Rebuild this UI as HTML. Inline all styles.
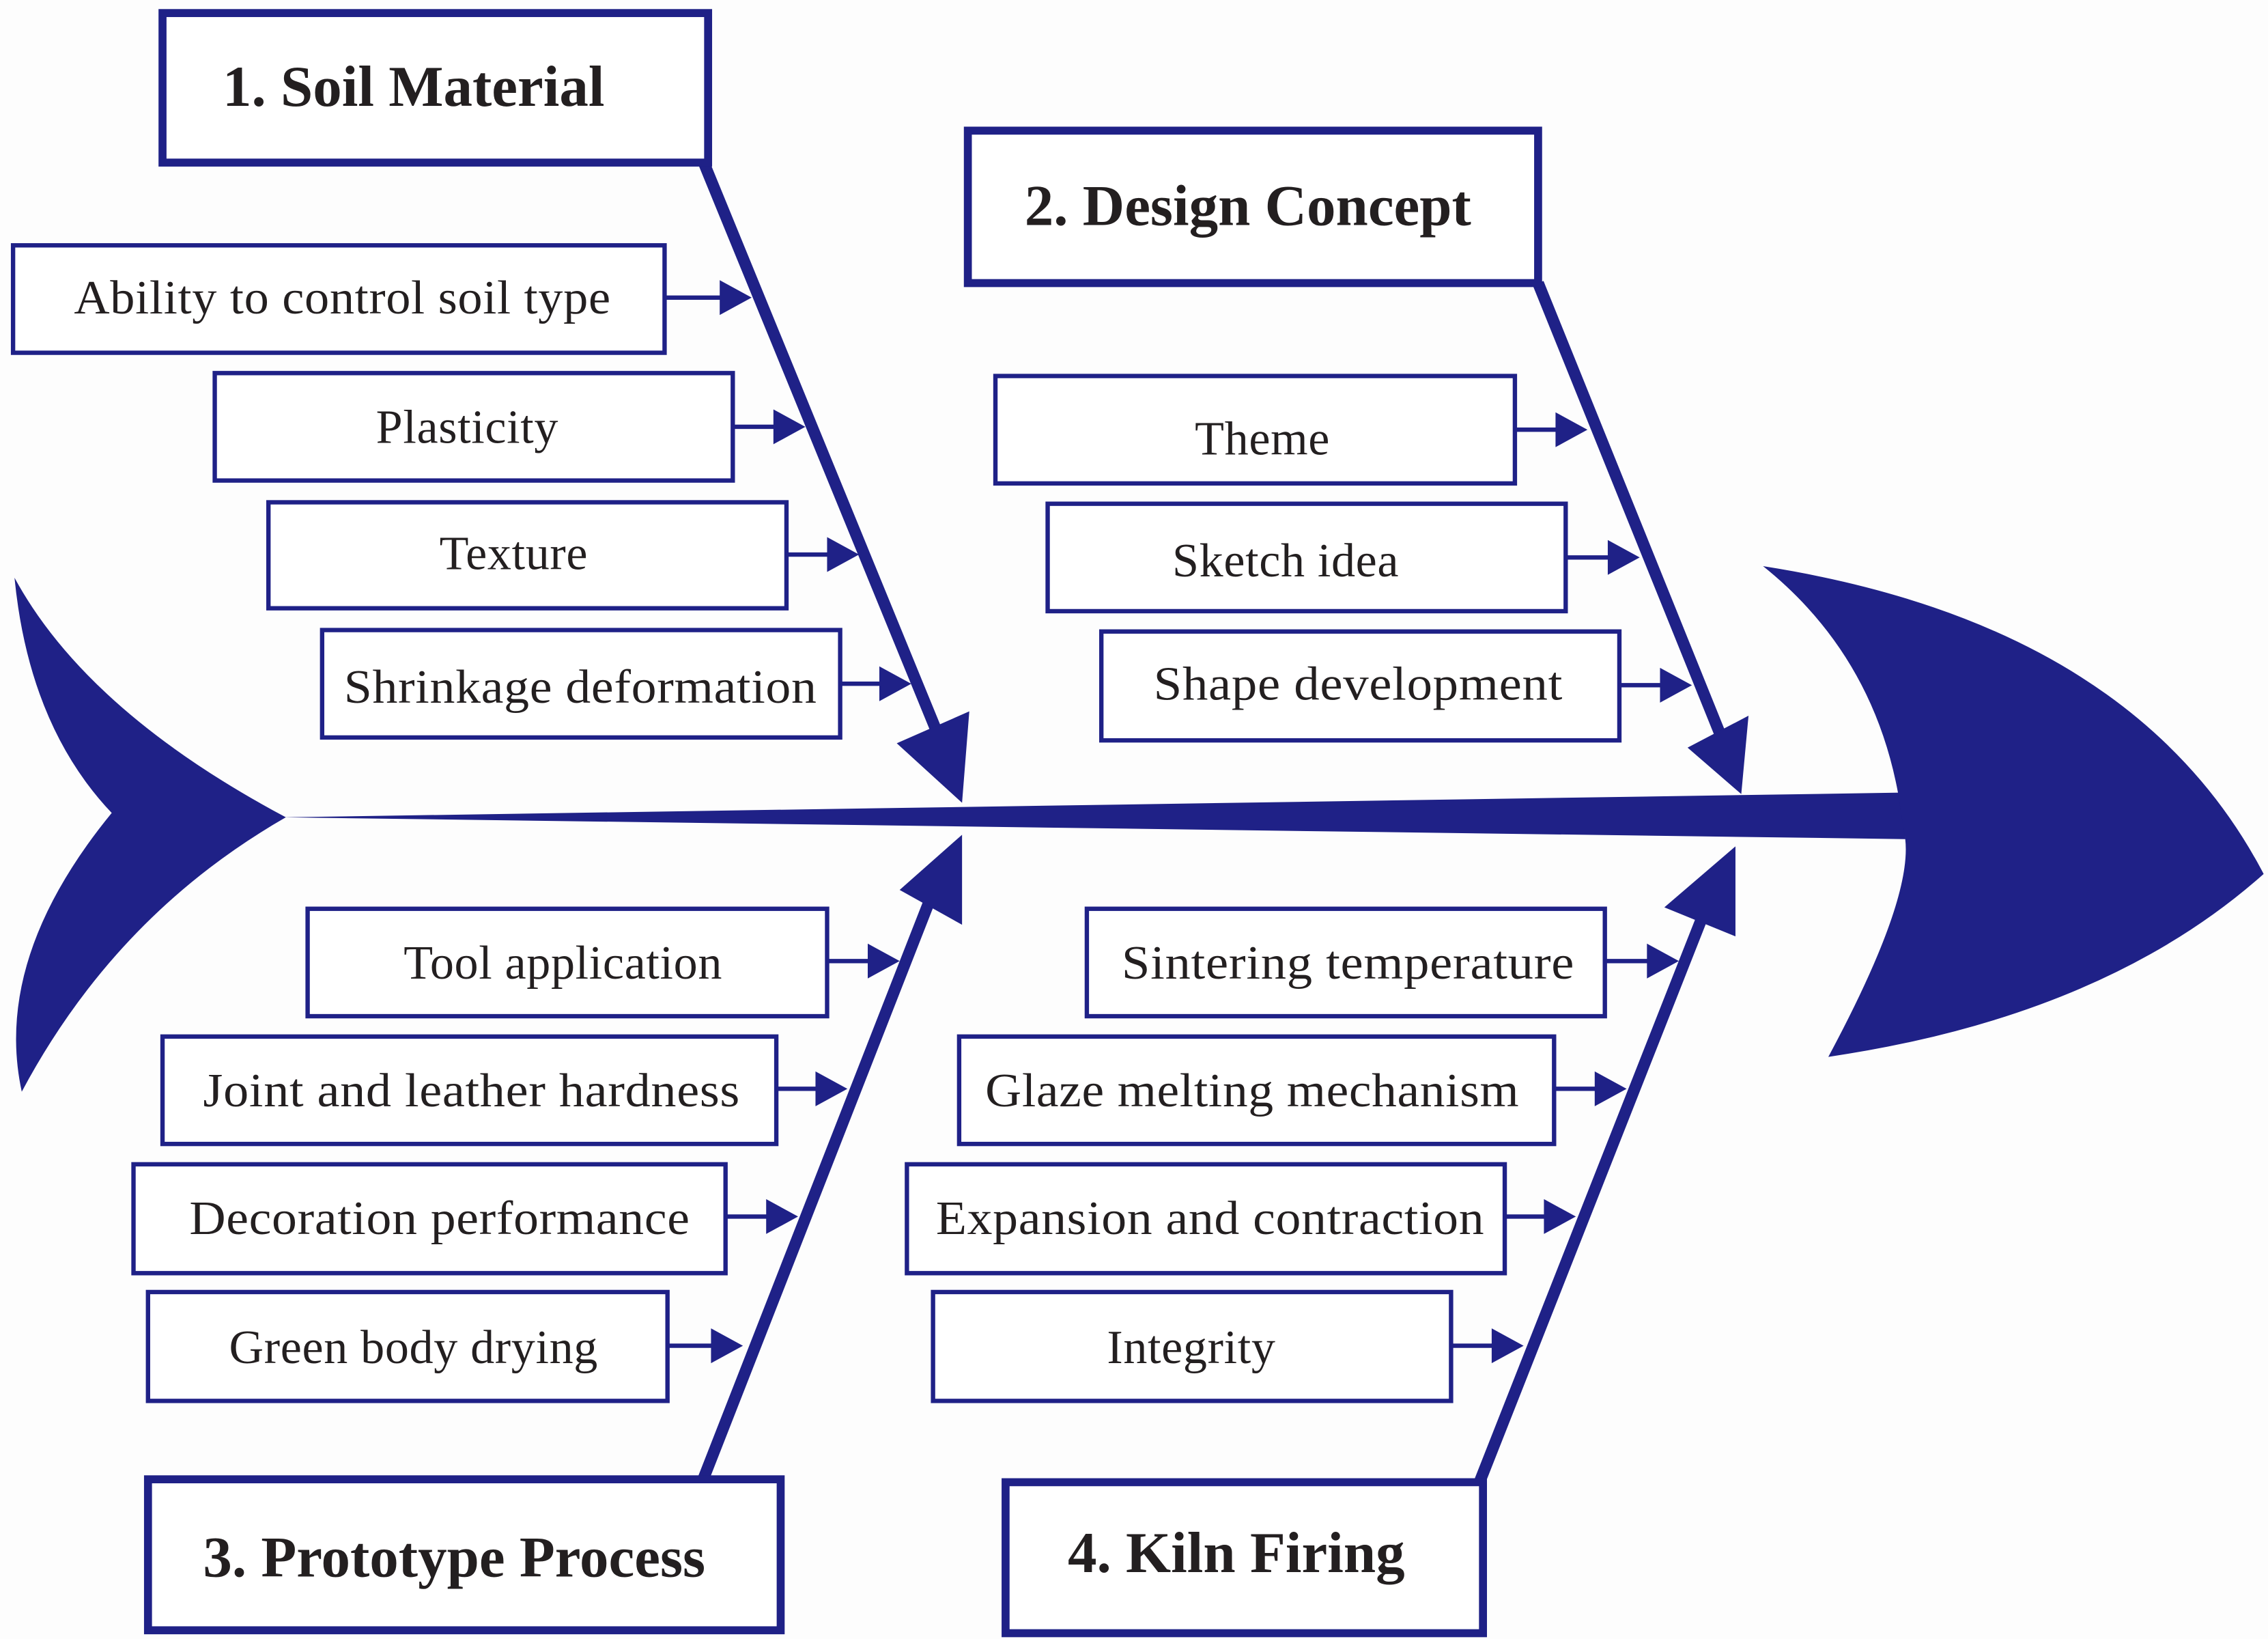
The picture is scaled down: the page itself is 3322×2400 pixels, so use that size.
<!DOCTYPE html>
<html><head><meta charset="utf-8"><style>
html,body{margin:0;padding:0;background:#fdfdfd;}
svg{display:block;}
text{font-family:"Liberation Serif",serif;fill:#231f20;}
.t{font-size:33px;text-anchor:middle;letter-spacing:0.3px;}
.h{font-size:40px;font-weight:bold;text-anchor:middle;}
.b{fill:#fff;stroke:#1f2187;stroke-width:3;}
.H{fill:#fff;stroke:#1f2187;stroke-width:5.5;}
.l{stroke:#1f2187;stroke-width:3;}
.bone{stroke:#1f2187;stroke-width:8;}
.f{fill:#1f2187;}
</style></head><body>
<svg width="3322" height="2400" viewBox="0 0 1563 1129" preserveAspectRatio="none" xmlns="http://www.w3.org/2000/svg">
<rect width="1563" height="1129" fill="#fdfdfd"/>
<path class="f" d="M10,398 Q60,490 197,563 Q80,630 15,752 Q-5,660 77,560 Q20,500 10,398 Z"/>
<path class="f" d="M195,563 L1310,546 L1313,578 Z"/>
<path class="f" d="M1215,390 Q1470,430 1560,602 Q1450,700 1260,728 Q1318,620 1313,578 L1308,546 Q1290,450 1215,390 Z"/>
<line class="bone" x1="485" y1="112" x2="646" y2="505"/>
<path class="f" d="M663,553 L618,512 L668,490 Z"/>
<line class="bone" x1="1060" y1="195" x2="1188" y2="512"/>
<path class="f" d="M1200,547 L1163,515 L1205,493 Z"/>
<line class="bone" x1="485" y1="1018" x2="640" y2="622"/>
<path class="f" d="M663,575 L620,613 L663,637 Z"/>
<line class="bone" x1="1020" y1="1020" x2="1175" y2="627"/>
<path class="f" d="M1196,583 L1147,625 L1196,645 Z"/>
<rect class="H" x="112" y="9" width="376" height="103"/><text class="h" x="285" y="73">1. Soil Material</text>
<rect class="H" x="667" y="90" width="393" height="105"/><text class="h" x="860" y="155">2. Design Concept</text>
<rect class="H" x="102" y="1019" width="436" height="104"/><text class="h" x="313" y="1086">3. Prototype Process</text>
<rect class="H" x="693" y="1021" width="329" height="104"/><text class="h" x="852" y="1083">4. Kiln Firing</text>
<g>
<rect class="b" x="9" y="169" width="449" height="74"/><text class="t" x="236" y="216" textLength="370" lengthAdjust="spacingAndGlyphs">Ability to control soil type</text>
<line class="l" x1="458" y1="205" x2="500" y2="205"/><path class="f" d="M518,205 L496,193 L496,217 Z"/>
<rect class="b" x="148" y="257" width="357" height="74"/><text class="t" x="322" y="305">Plasticity</text>
<line class="l" x1="505" y1="294" x2="537" y2="294"/><path class="f" d="M555,294 L533,282 L533,306 Z"/>
<rect class="b" x="185" y="346" width="357" height="73"/><text class="t" x="354" y="392">Texture</text>
<line class="l" x1="542" y1="382" x2="574" y2="382"/><path class="f" d="M592,382 L570,370 L570,394 Z"/>
<rect class="b" x="222" y="434" width="357" height="74"/><text class="t" x="400" y="484" textLength="326" lengthAdjust="spacingAndGlyphs">Shrinkage deformation</text>
<line class="l" x1="579" y1="471" x2="610" y2="471"/><path class="f" d="M628,471 L606,459 L606,483 Z"/>

<rect class="b" x="686" y="259" width="358" height="74"/><text class="t" x="870" y="313">Theme</text>
<line class="l" x1="1044" y1="296" x2="1076" y2="296"/><path class="f" d="M1094,296 L1072,284 L1072,308 Z"/>
<rect class="b" x="722" y="347" width="357" height="74"/><text class="t" x="886" y="397">Sketch idea</text>
<line class="l" x1="1079" y1="384" x2="1112" y2="384"/><path class="f" d="M1130,384 L1108,372 L1108,396 Z"/>
<rect class="b" x="759" y="435" width="357" height="75"/><text class="t" x="936" y="482" textLength="282" lengthAdjust="spacingAndGlyphs">Shape development</text>
<line class="l" x1="1116" y1="472" x2="1148" y2="472"/><path class="f" d="M1166,472 L1144,460 L1144,484 Z"/>

<rect class="b" x="212" y="626" width="358" height="74"/><text class="t" x="388" y="674">Tool application</text>
<line class="l" x1="570" y1="662" x2="602" y2="662"/><path class="f" d="M620,662 L598,650 L598,674 Z"/>
<rect class="b" x="112" y="714" width="423" height="74"/><text class="t" x="325" y="762" textLength="370" lengthAdjust="spacingAndGlyphs">Joint and leather hardness</text>
<line class="l" x1="535" y1="750" x2="566" y2="750"/><path class="f" d="M584,750 L562,738 L562,762 Z"/>
<rect class="b" x="92" y="802" width="408" height="75"/><text class="t" x="303" y="850" textLength="345" lengthAdjust="spacingAndGlyphs">Decoration performance</text>
<line class="l" x1="500" y1="838" x2="532" y2="838"/><path class="f" d="M550,838 L528,826 L528,850 Z"/>
<rect class="b" x="102" y="890" width="358" height="75"/><text class="t" x="285" y="939">Green body drying</text>
<line class="l" x1="460" y1="927" x2="494" y2="927"/><path class="f" d="M512,927 L490,915 L490,939 Z"/>

<rect class="b" x="749" y="626" width="357" height="74"/><text class="t" x="929" y="674" textLength="312" lengthAdjust="spacingAndGlyphs">Sintering temperature</text>
<line class="l" x1="1106" y1="662" x2="1139" y2="662"/><path class="f" d="M1157,662 L1135,650 L1135,674 Z"/>
<rect class="b" x="661" y="714" width="410" height="74"/><text class="t" x="863" y="762" textLength="368" lengthAdjust="spacingAndGlyphs">Glaze melting mechanism</text>
<line class="l" x1="1071" y1="750" x2="1103" y2="750"/><path class="f" d="M1121,750 L1099,738 L1099,762 Z"/>
<rect class="b" x="625" y="802" width="412" height="75"/><text class="t" x="834" y="850" textLength="378" lengthAdjust="spacingAndGlyphs">Expansion and contraction</text>
<line class="l" x1="1037" y1="838" x2="1068" y2="838"/><path class="f" d="M1086,838 L1064,826 L1064,850 Z"/>
<rect class="b" x="643" y="890" width="357" height="75"/><text class="t" x="821" y="939">Integrity</text>
<line class="l" x1="1000" y1="927" x2="1032" y2="927"/><path class="f" d="M1050,927 L1028,915 L1028,939 Z"/>
</g>
</svg>
</body></html>
